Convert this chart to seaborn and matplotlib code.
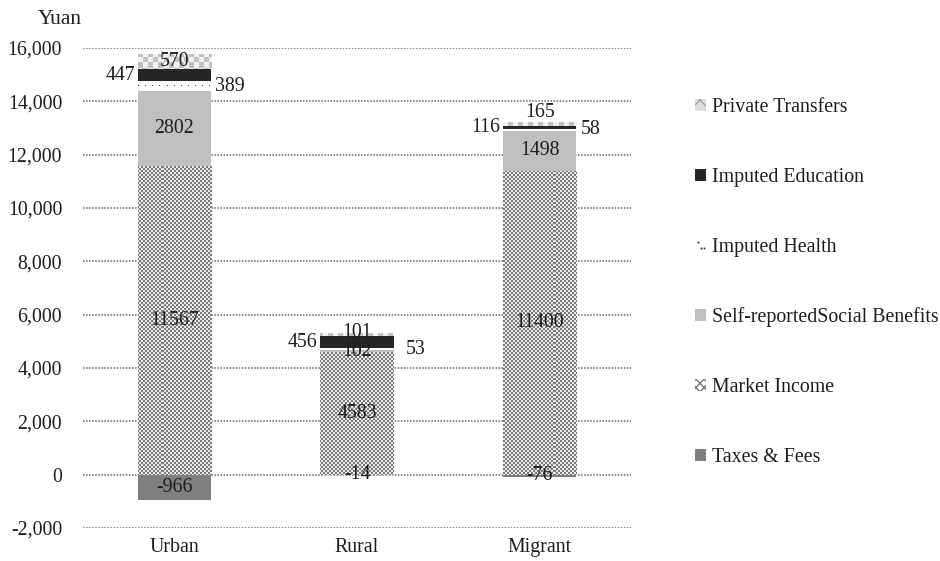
import numpy as np
import matplotlib
matplotlib.use("Agg")
import matplotlib.pyplot as plt
from matplotlib.patches import Patch
from matplotlib.lines import Line2D
from matplotlib.legend_handler import HandlerBase
import seaborn as sns

# Per-capita income components by household type (Yuan)
regions = ["Urban", "Rural", "Migrant"]
taxes_fees = [-966, -14, -76]
market_income = [11567, 4583, 11400]
social_benefits = [2802, 102, 1498]
imputed_health = [389, 53, 58]
imputed_education = [447, 456, 116]
private_transfers = [570, 101, 165]

y_ticks = list(range(-2000, 16001, 2000))
y_label = "Yuan"

sns.set_theme(style="white")
plt.rcParams["font.family"] = ["Liberation Serif", "DejaVu Serif"]
TXT = "#1e1e1e"
FS = 14.3

fig = plt.figure(figsize=(9.4, 5.61), dpi=100)
ax = fig.add_axes([83 / 940, 1 - 528 / 561, 548 / 940, 480 / 561])

# layer definitions: (label, values, face colour, texture, label placement)
layers = [
    ("Taxes & Fees", taxes_fees, "#7f7f7f", None, ["c", "c", "c"]),
    ("Market Income", market_income, "#ffffff", "fine", ["c", "c", "c"]),
    ("Self-reportedSocial Benefits", social_benefits, "#bfbfbf", None, ["c", "c", "c"]),
    ("Imputed Health", imputed_health, "#ffffff", "dots", ["r", "r", "r"]),
    ("Imputed Education", imputed_education, "#262626", None, ["l", "l", "l"]),
    ("Private Transfers", private_transfers, "#ffffff", "coarse", ["c", "c", "c"]),
]
# small nudges (points) for a few labels
label_dy = {("Private Transfers", 1): 2, ("Private Transfers", 2): 8}
label_dx = {("Imputed Health", 1): 6}

BAR_W = 0.4
ax.set_axisbelow(True)

positive_base = np.zeros(len(regions))
drawn = []
for name, vals, col, tex, modes in layers:
    vals = np.asarray(vals, dtype=float)
    if name == "Taxes & Fees":
        base = np.zeros(len(regions))
    else:
        base = positive_base.copy()
    n_before = len(ax.patches)
    sns.barplot(x=regions, y=vals, bottom=base, color=col, saturation=1,
                width=BAR_W, linewidth=0, edgecolor="none", ax=ax, errorbar=None)
    patches = ax.patches[n_before:]
    drawn.append((name, vals, base, tex, modes, patches))
    if name != "Taxes & Fees":
        positive_base = positive_base + vals

ax.set_xlim(-0.5, 2.5)
ax.set_ylim(-2000, 16000)

# pixel textures clipped to bar shapes
fig.canvas.draw()
bb = ax.get_window_extent()
w, h = int(round(bb.width)), int(round(bb.height))
jj, ii = np.meshgrid(np.arange(w), np.arange(h))


def make_texture(kind):
    img = np.ones((h, w, 3))
    if kind == "fine":
        mask = ((ii // 2 + jj // 2) % 2) == 0
        img[mask] = 0.48
        img[~mask] = 0.92
    elif kind == "coarse":
        mask = ((ii // 5 + jj // 5) % 2) == 0
        img[mask] = 0.76
        img[~mask] = 0.95
    elif kind == "dots":
        row = ii % 7 == 3
        col = (jj + (ii // 7) * 3) % 7 == 0
        img[row & col] = 0.25
    return img


for name, vals, base, tex, modes, patches in drawn:
    if tex is None:
        continue
    timg = make_texture(tex)
    for p in patches:
        im = ax.imshow(timg, extent=(0, 1, 0, 1), transform=ax.transAxes,
                       interpolation="nearest", aspect="auto", zorder=1.2)
        im.set_clip_path(p)

ax.set_xlim(-0.5, 2.5)
ax.set_ylim(-2000, 16000)

# value labels
for name, vals, base, tex, modes, patches in drawn:
    for i, v in enumerate(vals):
        yc = base[i] + v / 2
        dy = label_dy.get((name, i), 0)
        dx = label_dx.get((name, i), 0)
        mode = modes[i]
        if mode == "c":
            ax.annotate(f"{int(v)}", (i, yc), xytext=(dx, dy), textcoords="offset points",
                        ha="center", va="center", fontsize=FS, color=TXT, zorder=5)
        elif mode == "l":
            ax.annotate(f"{int(v)}", (i - BAR_W / 2, yc), xytext=(-2 + dx, dy),
                        textcoords="offset points", ha="right", va="center",
                        fontsize=FS, color=TXT, zorder=5)
        else:
            ax.annotate(f"{int(v)}", (i + BAR_W / 2, yc), xytext=(3 + dx, dy),
                        textcoords="offset points", ha="left", va="center",
                        fontsize=FS, color=TXT, zorder=5)

# axes styling
ax.set_yticks(y_ticks)
ax.set_yticklabels([f"{t:,}" for t in y_ticks])
ax.yaxis.grid(True, color="#666666", linestyle=(0, (1, 1)), linewidth=1.1)
ax.xaxis.grid(False)
for s in ax.spines.values():
    s.set_visible(False)
ax.tick_params(axis="y", length=0, pad=15, labelsize=FS, labelcolor=TXT)
ax.tick_params(axis="x", length=0, pad=7, labelsize=FS, labelcolor=TXT)
ax.set_xlabel("")
ax.set_ylabel("")

fig.text(38 / 940, 1 - 19 / 561, y_label, ha="left", va="center", fontsize=15.5, color=TXT)


class DotsHandler(HandlerBase):
    """Legend key made of a few tiny dots."""

    def create_artists(self, legend, orig_handle, xdescent, ydescent, width,
                       height, fontsize, trans):
        xs = [-xdescent + width * 0.25, -xdescent + width * 0.55, -xdescent + width * 0.85]
        ys = [-ydescent + height * 0.75, -ydescent + height * 0.2, -ydescent + height * 0.2]
        ln = Line2D(xs, ys, linestyle="none", marker="s", markersize=1.3,
                    markerfacecolor="#333333", markeredgewidth=0, transform=trans)
        return [ln]


health_key = Line2D([], [])

# legend (top entry first)
legend_handles = [
    Patch(facecolor="#dedede", edgecolor="#a8a8a8", hatch="xx", linewidth=0),
    Patch(facecolor="#262626", linewidth=0),
    health_key,
    Patch(facecolor="#bfbfbf", linewidth=0),
    Patch(facecolor="#ffffff", edgecolor="#777777", hatch="xxxx", linewidth=0),
    Patch(facecolor="#7f7f7f", linewidth=0),
]
legend_labels = [name for name, *_ in layers][::-1]
fig.legend(legend_handles, legend_labels, loc="upper left",
           bbox_to_anchor=(695 / 940, 1 - 98 / 561), frameon=False,
           fontsize=FS, handlelength=0.55, handleheight=0.55, handletextpad=0.3,
           labelspacing=2.56, borderpad=0, borderaxespad=0, labelcolor=TXT,
           handler_map={health_key: DotsHandler()})

fig.savefig("out.png", dpi=100)
